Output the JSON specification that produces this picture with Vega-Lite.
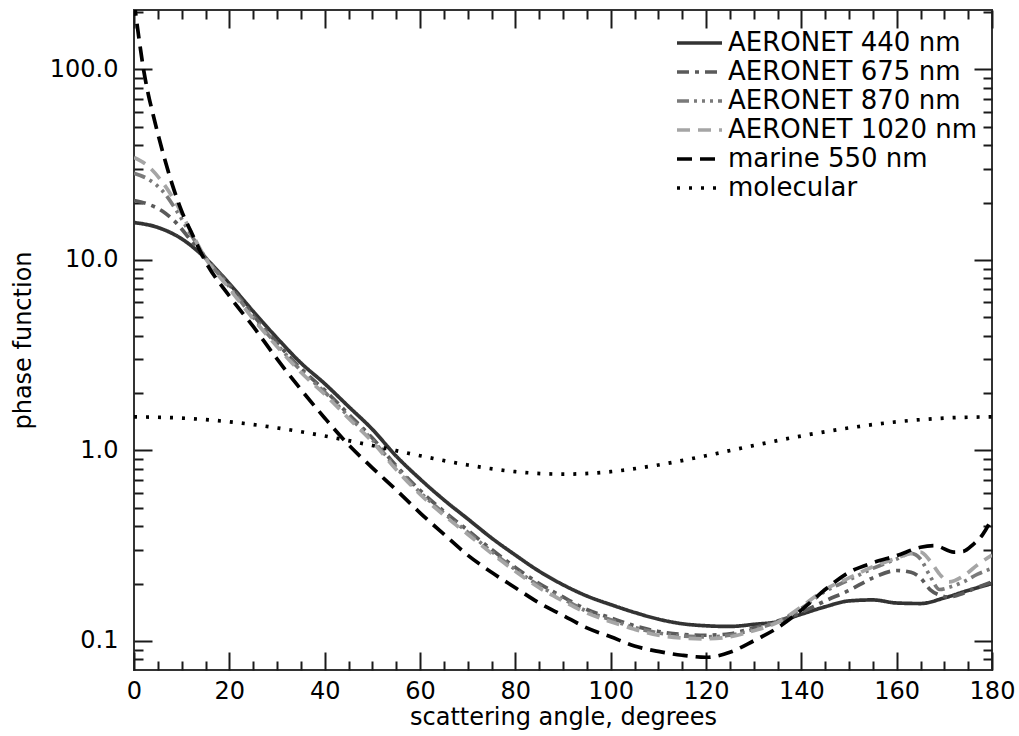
{
"$schema": "https://vega.github.io/schema/vega-lite/v6.json",
"width": 858, "height": 660,
"autosize": {"type": "none"},
"padding": {"left": 134, "top": 10, "right": 27, "bottom": 66},
"background": "white",
"config": {
  "view": {"stroke": "#333333", "strokeWidth": 2},
  "font": "DejaVu Sans",
  "axis": {"labelFont": "DejaVu Sans", "titleFont": "DejaVu Sans", "labelColor": "black", "titleColor": "black", "ticks": true, "tickColor": "#1a1a1a", "tickOpacity": 1, "tickWidth": 2, "domain": false, "grid": false, "zindex": 1, "titleFontWeight": "normal", "labelFontSize": 24, "titleFontSize": 24, "labelFlush": false}
},
"datasets": {
"curves": [
{"series":"AERONET 440 nm","angle":0,"value":15.7},{"series":"AERONET 440 nm","angle":5,"value":14.8},{"series":"AERONET 440 nm","angle":10,"value":12.9},{"series":"AERONET 440 nm","angle":15,"value":10.2},{"series":"AERONET 440 nm","angle":20,"value":7.5},{"series":"AERONET 440 nm","angle":25,"value":5.37},{"series":"AERONET 440 nm","angle":30,"value":3.89},{"series":"AERONET 440 nm","angle":35,"value":2.88},{"series":"AERONET 440 nm","angle":40,"value":2.24},{"series":"AERONET 440 nm","angle":45,"value":1.70},{"series":"AERONET 440 nm","angle":50,"value":1.29},{"series":"AERONET 440 nm","angle":55,"value":0.933},{"series":"AERONET 440 nm","angle":60,"value":0.708},{"series":"AERONET 440 nm","angle":65,"value":0.55},{"series":"AERONET 440 nm","angle":70,"value":0.437},{"series":"AERONET 440 nm","angle":75,"value":0.347},{"series":"AERONET 440 nm","angle":80,"value":0.282},{"series":"AERONET 440 nm","angle":85,"value":0.232},{"series":"AERONET 440 nm","angle":90,"value":0.197},{"series":"AERONET 440 nm","angle":95,"value":0.172},{"series":"AERONET 440 nm","angle":100,"value":0.155},{"series":"AERONET 440 nm","angle":105,"value":0.141},{"series":"AERONET 440 nm","angle":110,"value":0.13},{"series":"AERONET 440 nm","angle":115,"value":0.123},{"series":"AERONET 440 nm","angle":120,"value":0.12},{"series":"AERONET 440 nm","angle":125,"value":0.119},{"series":"AERONET 440 nm","angle":130,"value":0.122},{"series":"AERONET 440 nm","angle":135,"value":0.126},{"series":"AERONET 440 nm","angle":140,"value":0.138},{"series":"AERONET 440 nm","angle":145,"value":0.151},{"series":"AERONET 440 nm","angle":150,"value":0.162},{"series":"AERONET 440 nm","angle":155,"value":0.164},{"series":"AERONET 440 nm","angle":160,"value":0.158},{"series":"AERONET 440 nm","angle":165,"value":0.157},{"series":"AERONET 440 nm","angle":170,"value":0.168},{"series":"AERONET 440 nm","angle":175,"value":0.184},{"series":"AERONET 440 nm","angle":180,"value":0.2},
{"series":"AERONET 675 nm","angle":0,"value":20.5},{"series":"AERONET 675 nm","angle":3,"value":19.6},{"series":"AERONET 675 nm","angle":6,"value":18.0},{"series":"AERONET 675 nm","angle":9,"value":15.5},{"series":"AERONET 675 nm","angle":12,"value":12.6},{"series":"AERONET 675 nm","angle":15,"value":10.3},{"series":"AERONET 675 nm","angle":20,"value":7.4},{"series":"AERONET 675 nm","angle":25,"value":5.13},{"series":"AERONET 675 nm","angle":30,"value":3.67},{"series":"AERONET 675 nm","angle":35,"value":2.69},{"series":"AERONET 675 nm","angle":40,"value":2.07},{"series":"AERONET 675 nm","angle":45,"value":1.55},{"series":"AERONET 675 nm","angle":50,"value":1.16},{"series":"AERONET 675 nm","angle":55,"value":0.83},{"series":"AERONET 675 nm","angle":60,"value":0.617},{"series":"AERONET 675 nm","angle":65,"value":0.479},{"series":"AERONET 675 nm","angle":70,"value":0.381},{"series":"AERONET 675 nm","angle":75,"value":0.302},{"series":"AERONET 675 nm","angle":80,"value":0.243},{"series":"AERONET 675 nm","angle":85,"value":0.2},{"series":"AERONET 675 nm","angle":90,"value":0.17},{"series":"AERONET 675 nm","angle":95,"value":0.146},{"series":"AERONET 675 nm","angle":100,"value":0.132},{"series":"AERONET 675 nm","angle":105,"value":0.12},{"series":"AERONET 675 nm","angle":110,"value":0.112},{"series":"AERONET 675 nm","angle":115,"value":0.108},{"series":"AERONET 675 nm","angle":120,"value":0.107},{"series":"AERONET 675 nm","angle":125,"value":0.109},{"series":"AERONET 675 nm","angle":130,"value":0.117},{"series":"AERONET 675 nm","angle":135,"value":0.127},{"series":"AERONET 675 nm","angle":140,"value":0.141},{"series":"AERONET 675 nm","angle":145,"value":0.162},{"series":"AERONET 675 nm","angle":150,"value":0.184},{"series":"AERONET 675 nm","angle":155,"value":0.214},{"series":"AERONET 675 nm","angle":160,"value":0.234},{"series":"AERONET 675 nm","angle":163,"value":0.229},{"series":"AERONET 675 nm","angle":165,"value":0.214},{"series":"AERONET 675 nm","angle":167,"value":0.186},{"series":"AERONET 675 nm","angle":169,"value":0.174},{"series":"AERONET 675 nm","angle":171,"value":0.17},{"series":"AERONET 675 nm","angle":174,"value":0.178},{"series":"AERONET 675 nm","angle":177,"value":0.191},{"series":"AERONET 675 nm","angle":180,"value":0.204},
{"series":"AERONET 870 nm","angle":0,"value":28.5},{"series":"AERONET 870 nm","angle":3,"value":26.5},{"series":"AERONET 870 nm","angle":6,"value":23},{"series":"AERONET 870 nm","angle":9,"value":18},{"series":"AERONET 870 nm","angle":12,"value":13.5},{"series":"AERONET 870 nm","angle":15,"value":10.3},{"series":"AERONET 870 nm","angle":20,"value":7.24},{"series":"AERONET 870 nm","angle":25,"value":5.01},{"series":"AERONET 870 nm","angle":30,"value":3.59},{"series":"AERONET 870 nm","angle":35,"value":2.63},{"series":"AERONET 870 nm","angle":40,"value":2.02},{"series":"AERONET 870 nm","angle":45,"value":1.51},{"series":"AERONET 870 nm","angle":50,"value":1.135},{"series":"AERONET 870 nm","angle":55,"value":0.813},{"series":"AERONET 870 nm","angle":60,"value":0.603},{"series":"AERONET 870 nm","angle":65,"value":0.468},{"series":"AERONET 870 nm","angle":70,"value":0.372},{"series":"AERONET 870 nm","angle":75,"value":0.295},{"series":"AERONET 870 nm","angle":80,"value":0.237},{"series":"AERONET 870 nm","angle":85,"value":0.195},{"series":"AERONET 870 nm","angle":90,"value":0.166},{"series":"AERONET 870 nm","angle":95,"value":0.143},{"series":"AERONET 870 nm","angle":100,"value":0.129},{"series":"AERONET 870 nm","angle":105,"value":0.1175},{"series":"AERONET 870 nm","angle":110,"value":0.11},{"series":"AERONET 870 nm","angle":115,"value":0.106},{"series":"AERONET 870 nm","angle":120,"value":0.105},{"series":"AERONET 870 nm","angle":125,"value":0.107},{"series":"AERONET 870 nm","angle":130,"value":0.115},{"series":"AERONET 870 nm","angle":135,"value":0.126},{"series":"AERONET 870 nm","angle":140,"value":0.148},{"series":"AERONET 870 nm","angle":145,"value":0.182},{"series":"AERONET 870 nm","angle":150,"value":0.209},{"series":"AERONET 870 nm","angle":155,"value":0.24},{"series":"AERONET 870 nm","angle":160,"value":0.269},{"series":"AERONET 870 nm","angle":163,"value":0.288},{"series":"AERONET 870 nm","angle":165,"value":0.269},{"series":"AERONET 870 nm","angle":167,"value":0.219},{"series":"AERONET 870 nm","angle":169,"value":0.186},{"series":"AERONET 870 nm","angle":171,"value":0.191},{"series":"AERONET 870 nm","angle":174,"value":0.204},{"series":"AERONET 870 nm","angle":177,"value":0.224},{"series":"AERONET 870 nm","angle":180,"value":0.24},
{"series":"AERONET 1020 nm","angle":0,"value":34.5},{"series":"AERONET 1020 nm","angle":3,"value":31},{"series":"AERONET 1020 nm","angle":6,"value":25.5},{"series":"AERONET 1020 nm","angle":9,"value":19.5},{"series":"AERONET 1020 nm","angle":12,"value":14},{"series":"AERONET 1020 nm","angle":15,"value":10.2},{"series":"AERONET 1020 nm","angle":20,"value":7.07},{"series":"AERONET 1020 nm","angle":25,"value":4.9},{"series":"AERONET 1020 nm","angle":30,"value":3.51},{"series":"AERONET 1020 nm","angle":35,"value":2.57},{"series":"AERONET 1020 nm","angle":40,"value":1.97},{"series":"AERONET 1020 nm","angle":45,"value":1.475},{"series":"AERONET 1020 nm","angle":50,"value":1.11},{"series":"AERONET 1020 nm","angle":55,"value":0.794},{"series":"AERONET 1020 nm","angle":60,"value":0.589},{"series":"AERONET 1020 nm","angle":65,"value":0.457},{"series":"AERONET 1020 nm","angle":70,"value":0.363},{"series":"AERONET 1020 nm","angle":75,"value":0.288},{"series":"AERONET 1020 nm","angle":80,"value":0.232},{"series":"AERONET 1020 nm","angle":85,"value":0.19},{"series":"AERONET 1020 nm","angle":90,"value":0.162},{"series":"AERONET 1020 nm","angle":95,"value":0.14},{"series":"AERONET 1020 nm","angle":100,"value":0.126},{"series":"AERONET 1020 nm","angle":105,"value":0.115},{"series":"AERONET 1020 nm","angle":110,"value":0.107},{"series":"AERONET 1020 nm","angle":115,"value":0.1035},{"series":"AERONET 1020 nm","angle":120,"value":0.1025},{"series":"AERONET 1020 nm","angle":125,"value":0.105},{"series":"AERONET 1020 nm","angle":130,"value":0.113},{"series":"AERONET 1020 nm","angle":135,"value":0.125},{"series":"AERONET 1020 nm","angle":140,"value":0.151},{"series":"AERONET 1020 nm","angle":145,"value":0.186},{"series":"AERONET 1020 nm","angle":150,"value":0.214},{"series":"AERONET 1020 nm","angle":155,"value":0.245},{"series":"AERONET 1020 nm","angle":160,"value":0.272},{"series":"AERONET 1020 nm","angle":163,"value":0.288},{"series":"AERONET 1020 nm","angle":165,"value":0.292},{"series":"AERONET 1020 nm","angle":167,"value":0.263},{"series":"AERONET 1020 nm","angle":169,"value":0.224},{"series":"AERONET 1020 nm","angle":171,"value":0.204},{"series":"AERONET 1020 nm","angle":174,"value":0.219},{"series":"AERONET 1020 nm","angle":177,"value":0.251},{"series":"AERONET 1020 nm","angle":180,"value":0.282},
{"series":"marine 550 nm","angle":0,"value":229},{"series":"marine 550 nm","angle":1,"value":148},{"series":"marine 550 nm","angle":2,"value":100},{"series":"marine 550 nm","angle":3,"value":74},{"series":"marine 550 nm","angle":4,"value":58},{"series":"marine 550 nm","angle":5,"value":46},{"series":"marine 550 nm","angle":6,"value":37},{"series":"marine 550 nm","angle":8,"value":25},{"series":"marine 550 nm","angle":10,"value":18},{"series":"marine 550 nm","angle":12,"value":14},{"series":"marine 550 nm","angle":15,"value":9.8},{"series":"marine 550 nm","angle":20,"value":6.46},{"series":"marine 550 nm","angle":25,"value":4.47},{"series":"marine 550 nm","angle":30,"value":3.02},{"series":"marine 550 nm","angle":35,"value":2.09},{"series":"marine 550 nm","angle":40,"value":1.48},{"series":"marine 550 nm","angle":45,"value":1.07},{"series":"marine 550 nm","angle":50,"value":0.81},{"series":"marine 550 nm","angle":55,"value":0.62},{"series":"marine 550 nm","angle":60,"value":0.47},{"series":"marine 550 nm","angle":65,"value":0.363},{"series":"marine 550 nm","angle":70,"value":0.282},{"series":"marine 550 nm","angle":75,"value":0.229},{"series":"marine 550 nm","angle":80,"value":0.19},{"series":"marine 550 nm","angle":85,"value":0.158},{"series":"marine 550 nm","angle":90,"value":0.136},{"series":"marine 550 nm","angle":95,"value":0.117},{"series":"marine 550 nm","angle":100,"value":0.105},{"series":"marine 550 nm","angle":105,"value":0.094},{"series":"marine 550 nm","angle":110,"value":0.088},{"series":"marine 550 nm","angle":115,"value":0.084},{"series":"marine 550 nm","angle":120,"value":0.082},{"series":"marine 550 nm","angle":125,"value":0.087},{"series":"marine 550 nm","angle":130,"value":0.1},{"series":"marine 550 nm","angle":135,"value":0.117},{"series":"marine 550 nm","angle":140,"value":0.145},{"series":"marine 550 nm","angle":145,"value":0.186},{"series":"marine 550 nm","angle":150,"value":0.229},{"series":"marine 550 nm","angle":155,"value":0.257},{"series":"marine 550 nm","angle":160,"value":0.28},{"series":"marine 550 nm","angle":165,"value":0.31},{"series":"marine 550 nm","angle":168,"value":0.316},{"series":"marine 550 nm","angle":172,"value":0.292},{"series":"marine 550 nm","angle":174,"value":0.295},{"series":"marine 550 nm","angle":176,"value":0.32},{"series":"marine 550 nm","angle":178,"value":0.36},{"series":"marine 550 nm","angle":180,"value":0.44},
{"series":"molecular","angle":0,"value":1.5},{"series":"molecular","angle":10,"value":1.477},{"series":"molecular","angle":20,"value":1.412},{"series":"molecular","angle":30,"value":1.312},{"series":"molecular","angle":40,"value":1.19},{"series":"molecular","angle":50,"value":1.06},{"series":"molecular","angle":60,"value":0.9375},{"series":"molecular","angle":70,"value":0.838},{"series":"molecular","angle":80,"value":0.773},{"series":"molecular","angle":90,"value":0.75},{"series":"molecular","angle":100,"value":0.773},{"series":"molecular","angle":110,"value":0.838},{"series":"molecular","angle":120,"value":0.9375},{"series":"molecular","angle":130,"value":1.06},{"series":"molecular","angle":140,"value":1.19},{"series":"molecular","angle":150,"value":1.312},{"series":"molecular","angle":160,"value":1.412},{"series":"molecular","angle":170,"value":1.477},{"series":"molecular","angle":180,"value":1.5}
]
},
"layer": [
{
  "data": {"name": "curves"},
  "mark": {"type": "line", "strokeWidth": 3.7, "interpolate": "monotone", "clip": true},
  "encoding": {
    "x": {"field": "angle", "type": "quantitative",
      "scale": {"domain": [0, 180], "nice": false, "zero": false},
      "axis": {"orient": "bottom", "offset": -18, "values": [0,20,40,60,80,100,120,140,160,180], "ticks": true, "tickSize": 18, "labelPadding": 9, "title": "scattering angle, degrees", "titlePadding": 2}},
    "y": {"field": "value", "type": "quantitative",
      "scale": {"type": "log", "domain": [0.0703, 205], "nice": false, "zero": false},
      "axis": {"orient": "left", "offset": -18, "values": [0.1, 1, 10, 100], "format": ".1f", "ticks": true, "tickSize": 18, "labelPadding": 16, "title": "phase function", "titlePadding": 14}},
    "color": {"field": "series", "type": "nominal",
      "scale": {"domain": ["AERONET 440 nm","AERONET 675 nm","AERONET 870 nm","AERONET 1020 nm","marine 550 nm","molecular"],
                "range": ["#333333","#5a5a5a","#7a7a7a","#a5a5a5","#000000","#000000"]},
      "legend": {"title": null, "orient": "none", "legendX": 541, "legendY": 20, "symbolType": "stroke", "symbolSize": 2025, "symbolStrokeWidth": 3.7, "labelFontSize": 26, "labelFont": "DejaVu Sans", "labelColor": "black", "labelOffset": 4, "rowPadding": 3, "clipHeight": 26, "labelLimit": 400}},
    "strokeDash": {"field": "series", "type": "nominal",
      "scale": {"domain": ["AERONET 440 nm","AERONET 675 nm","AERONET 870 nm","AERONET 1020 nm","marine 550 nm","molecular"],
                "range": [[1,0],[12,6,4,6],[12,5,3,5,3,5,3,5],[13,8],[15,8],[3,9]]},
      "legend": {"title": null, "orient": "none", "legendX": 541, "legendY": 20, "symbolType": "stroke", "symbolSize": 2025, "symbolStrokeWidth": 3.7, "labelFontSize": 26, "labelFont": "DejaVu Sans", "labelColor": "black", "labelOffset": 4, "rowPadding": 3, "clipHeight": 26, "labelLimit": 400}}
  }
},
{
  "data": {"name": "curves"},
  "mark": {"type": "point", "opacity": 0},
  "encoding": {
    "x": {"field": "angle", "type": "quantitative",
      "axis": {"orient": "top", "offset": -18, "values": [0,20,40,60,80,100,120,140,160,180], "ticks": true, "tickSize": 18, "labels": false, "title": null}},
    "y": {"field": "value", "type": "quantitative",
      "axis": {"orient": "right", "offset": -18, "values": [0.1, 1, 10, 100], "ticks": true, "tickSize": 18, "labels": false, "title": null}}
  }
},
{
  "data": {"name": "curves"},
  "mark": {"type": "point", "opacity": 0},
  "encoding": {
    "x": {"field": "angle", "type": "quantitative",
      "axis": {"orient": "bottom", "offset": -9, "values": [5,10,15,25,30,35,45,50,55,65,70,75,85,90,95,105,110,115,125,130,135,145,150,155,165,170,175], "ticks": true, "tickSize": 9, "labels": false, "title": null}},
    "y": {"field": "value", "type": "quantitative",
      "axis": {"orient": "left", "offset": -9, "values": [0.08,0.09,0.2,0.3,0.4,0.5,0.6,0.7,0.8,0.9,2,3,4,5,6,7,8,9,20,30,40,50,60,70,80,90,200], "ticks": true, "tickSize": 9, "labels": false, "title": null}}
  }
},
{
  "data": {"name": "curves"},
  "mark": {"type": "point", "opacity": 0},
  "encoding": {
    "x": {"field": "angle", "type": "quantitative",
      "axis": {"orient": "top", "offset": -9, "values": [5,10,15,25,30,35,45,50,55,65,70,75,85,90,95,105,110,115,125,130,135,145,150,155,165,170,175], "ticks": true, "tickSize": 9, "labels": false, "title": null}},
    "y": {"field": "value", "type": "quantitative",
      "axis": {"orient": "right", "offset": -9, "values": [0.08,0.09,0.2,0.3,0.4,0.5,0.6,0.7,0.8,0.9,2,3,4,5,6,7,8,9,20,30,40,50,60,70,80,90,200], "ticks": true, "tickSize": 9, "labels": false, "title": null}}
  }
}
],
"resolve": {"axis": {"x": "independent", "y": "independent"}}
}
